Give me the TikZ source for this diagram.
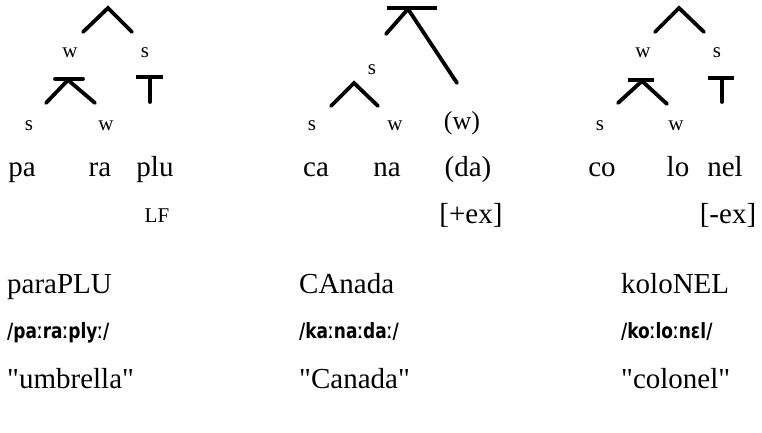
\documentclass[tikz,border=0pt]{standalone}
\usepackage{fontspec}
\setmainfont{Liberation Serif}
\newfontfamily\plainserif{Liberation Serif}
\newfontfamily\phonfont[FakeStretch=0.9]{DejaVu Sans Condensed}
\begin{document}
\begin{tikzpicture}[x=1pt,y=-1pt,
  branch/.style={line width=3.8pt,line cap=round,line join=miter},
  word/.style={font=\fontsize{29}{32}\selectfont,anchor=base,inner sep=0pt},
  lab/.style={font=\fontsize{21}{24}\selectfont,anchor=base,inner sep=0pt},
  row/.style={font=\plainserif\fontsize{29}{32}\selectfont,anchor=base west,inner sep=0pt},
  phon/.style={font=\phonfont\bfseries\fontsize{21}{24}\selectfont,anchor=base west,inner sep=0pt}]
\useasboundingbox (0,0) rectangle (762,433);
% ---------- tree 1 ----------
\coordinate (a1l) at (83,32); \coordinate (a1t) at (108,8); \coordinate (a1r) at (132,32);
\draw[branch] (a1l) -- (a1t) -- (a1r);
\node[lab] (w1u) at (70,58) {w};
\node[lab] (s1u) at (145,58) {s};
\coordinate (b1bl) at (55,79); \coordinate (b1br) at (83,79); \coordinate (b1t) at (68,80);
\coordinate (b1l) at (46,103); \coordinate (b1r) at (95,103);
\draw[branch] (b1bl) -- (b1br);
\draw[branch] (b1l) -- (b1t) -- (b1r);
\coordinate (t1l) at (136,77); \coordinate (t1r) at (163,77); \coordinate (t1m) at (150,77); \coordinate (t1b) at (150,102);
\draw[branch,line cap=butt] (t1l) -- (t1r);
\draw[branch] (t1m) -- (t1b);
\node[lab] (s1l) at (29,130) {s};
\node[lab] (w1l) at (106,130) {w};
\node[word] (pa) at (22,176) {pa};
\node[word] (ra) at (100,176) {ra};
\node[word] (plu) at (155,176) {plu};
\node[lab] (lf) at (157,222) {LF};
% ---------- tree 2 ----------
\coordinate (c2bl) at (387,8); \coordinate (c2br) at (437,8); \coordinate (c2t) at (408,9);
\coordinate (c2l) at (386,34); \coordinate (c2r) at (457,83);
\draw[branch,line cap=butt] (c2bl) -- (c2br);
\draw[branch] (c2l) -- (c2t) -- (c2r);
\node[lab] (s2u) at (372,75) {s};
\coordinate (d2l) at (331,106); \coordinate (d2t) at (354,83); \coordinate (d2r) at (378,106);
\draw[branch] (d2l) -- (d2t) -- (d2r);
\node[lab] (s2l) at (312,131) {s};
\node[lab] (w2l) at (395,131) {w};
\node[word,font=\fontsize{26}{30}\selectfont] (w2p) at (462,129) {(w)};
\node[word] (ca) at (316,176) {ca};
\node[word] (na) at (387,176) {na};
\node[word] (da) at (468,176) {(da)};
\node[word] (pex) at (471,223) {[+ex]};
% ---------- tree 3 ----------
\coordinate (a3l) at (655,32); \coordinate (a3t) at (679,8); \coordinate (a3r) at (704,32);
\draw[branch] (a3l) -- (a3t) -- (a3r);
\node[lab] (w3u) at (643,58) {w};
\node[lab] (s3u) at (717,58) {s};
\coordinate (b3bl) at (628,80); \coordinate (b3br) at (654,80); \coordinate (b3t) at (642,81);
\coordinate (b3l) at (618,103); \coordinate (b3r) at (667,104);
\draw[branch,line cap=butt] (b3bl) -- (b3br);
\draw[branch] (b3l) -- (b3t) -- (b3r);
\coordinate (t3l) at (708,78); \coordinate (t3r) at (734,78); \coordinate (t3m) at (722,78); \coordinate (t3b) at (722,102);
\draw[branch,line cap=butt] (t3l) -- (t3r);
\draw[branch] (t3m) -- (t3b);
\node[lab] (s3l) at (600,130) {s};
\node[lab] (w3l) at (676,130) {w};
\node[word] (co) at (602,176) {co};
\node[word] (lo) at (678,176) {lo};
\node[word] (nel) at (725,176) {nel};
\node[word] (mex) at (728,223) {[-ex]};
% ---------- rows ----------
\node[row] (r1a) at (7,293) {paraPLU};
\node[row] (r1b) at (299,293) {CAnada};
\node[row] (r1c) at (621,293) {koloNEL};
\node[phon] (r2a) at (7,338) {/paːraːplyː/};
\node[phon] (r2b) at (299,338) {/kaːnaːdaː/};
\node[phon] (r2c) at (621,338) {/koːloːnɛl/};
\node[row] (r3a) at (7,388) {"umbrella"};
\node[row] (r3b) at (299,388) {"Canada"};
\node[row] (r3c) at (621,388) {"colonel"};
\end{tikzpicture}
\end{document}
